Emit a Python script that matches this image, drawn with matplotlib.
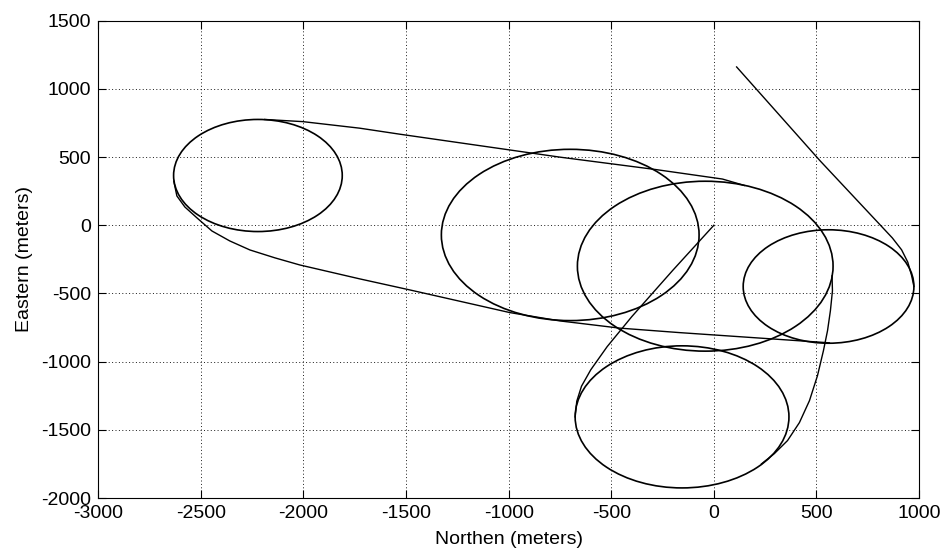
import matplotlib
matplotlib.use('Agg')
import matplotlib.pyplot as plt
from matplotlib.patches import Circle

plt.rcParams['font.family'] = ['Liberation Sans', 'DejaVu Sans']
plt.rcParams['axes.unicode_minus'] = False

# loiter circles (metres): centre north, centre east, radius
loiter_north = [-2222, -700, -42, 559, -155]
loiter_east = [365, -71, -300, -449, -1405]
loiter_radius = [411, 628, 623, 416, 521]

# inbound leg from the north-east onto the right-hand loiter
approach_north = [111, 517, 870, 915, 945, 964, 975]
approach_east = [1161, 474, -93, -180, -270, -370, -449]

# southern leg: west loiter out to the bottom of the east loiter
south_north = [-2632, -2617, -2578, -2519, -2446, -2359, -2261, -2139,
               -2018, -1726, -1482, -995, -752, -460, -168, 563]
south_east = [324, 215, 134, 54, -42, -115, -181, -239,
              -291, -393, -474, -640, -701, -754, -787, -862]

# northern leg: top of the west loiter across to the centre loiter
north_north = [-2189, -2003, -1726, -1531, -752, -280, 42, 149]
north_east = [776, 760, 712, 668, 500, 408, 339, 292]

# centre loiter down to the southern loiter
drop_north = [576, 578, 568, 554, 534, 505, 466, 417, 359, 295, 232]
drop_east = [-371, -481, -627, -773, -920, -1103, -1286, -1447, -1579,
             -1674, -1750]

# leg from the origin to the southern loiter
home_north = [0, -200, -400, -520, -600, -645, -668, -676]
home_east = [0, -330, -670, -890, -1060, -1180, -1290, -1405]

fig = plt.figure(figsize=(9.46, 5.57), dpi=100)
ax = fig.add_axes([0.1039, 0.1059, 0.8676, 0.8569])

for n, e, r in zip(loiter_north, loiter_east, loiter_radius):
    ax.add_patch(Circle((n, e), r, fill=False, edgecolor='k', lw=1.2))

legs = [(approach_north, approach_east), (south_north, south_east),
        (north_north, north_east), (drop_north, drop_east),
        (home_north, home_east)]
for n, e in legs:
    ax.plot(n, e, color='k', lw=1.0)

ax.set_xlim(-3000, 1000)
ax.set_ylim(-2000, 1500)
ax.set_xticks(range(-3000, 1001, 500))
ax.set_yticks(range(-2000, 1501, 500))

ax.grid(True, color='0.1', ls=(0, (1, 2.5)), lw=0.7)
ax.set_axisbelow(True)
ax.tick_params(direction='in', length=5.5, width=0.8, top=True, right=True,
               labelsize=14, pad=5, colors='k')
for s in ax.spines.values():
    s.set_linewidth(0.8)

ax.set_xlabel('Northen (meters)', fontsize=14)
ax.set_ylabel('Eastern (meters)', fontsize=14)
ax.xaxis.set_label_coords(0.5, -0.069)
ax.yaxis.set_label_coords(-0.080, 0.5)

fig.savefig('out.png', dpi=100)
